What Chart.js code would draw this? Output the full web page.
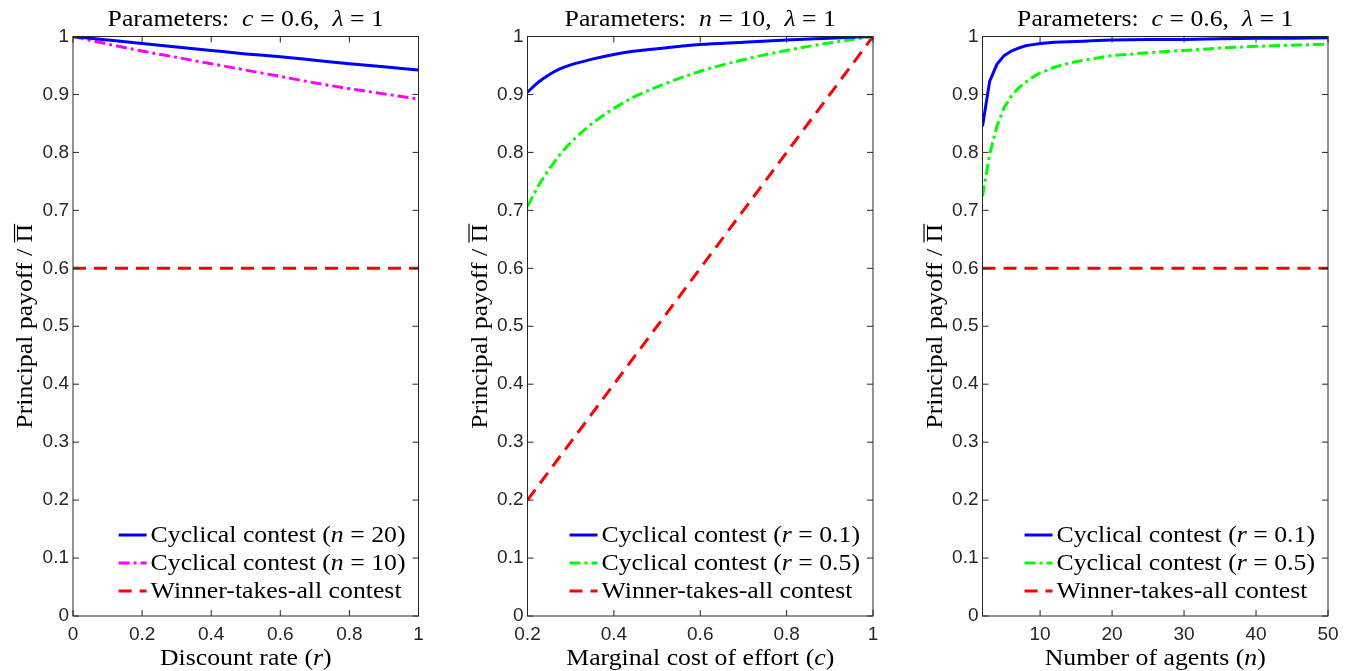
<!DOCTYPE html>
<html>
<head>
<meta charset="utf-8">
<script src="https://cdn.jsdelivr.net/npm/chart.js@4.4.1/dist/chart.umd.min.js"></script>
<style>
  html, body { margin: 0; padding: 0; background: #fff; }
  #wrap { position: relative; width: 1351px; height: 671px; overflow: hidden; }
  canvas { position: absolute; top: 0; }
</style>
</head>
<body>
<div id="wrap">
  <canvas id="c1" width="450" height="671" style="left:0px"></canvas>
  <canvas id="c2" width="450" height="671" style="left:455px"></canvas>
  <canvas id="c3" width="441" height="671" style="left:910px"></canvas>
</div>
<script>
// ── Data ──────────────────────────────────────────
// panel 1: discount rate r
const rVals = [0, 0.1, 0.2, 0.3, 0.4, 0.5, 0.6, 0.7, 0.8, 0.9, 1.0];
const p1CycN20 = [1.000, 0.994, 0.988, 0.982, 0.976, 0.970, 0.965, 0.959, 0.953, 0.948, 0.942];
const p1CycN10 = [1.000, 0.987, 0.975, 0.964, 0.953, 0.942, 0.931, 0.920, 0.910, 0.901, 0.892];
const p1WtaX = [0, 1];
const p1Wta = [0.6, 0.6];

// panel 2: marginal cost c
const cVals = [0.2, 0.225, 0.25, 0.275, 0.3, 0.35, 0.4, 0.45, 0.5, 0.6, 0.7, 0.8, 0.9, 1.0];
const p2CycR01 = [0.904, 0.921, 0.934, 0.944, 0.951, 0.961, 0.969, 0.975, 0.979, 0.986, 0.990, 0.994, 0.997, 1.000];
const p2CycR05 = [0.707, 0.742, 0.771, 0.796, 0.817, 0.850, 0.876, 0.897, 0.913, 0.940, 0.960, 0.976, 0.989, 1.000];
const p2WtaX = [0.2, 1.0];
const p2Wta = [0.2, 1.0];

// panel 3: number of agents n
const nVals = [2, 3, 4, 5, 6, 7, 8, 9, 10, 12, 14, 16, 18, 20, 25, 30, 35, 40, 45, 50];
const p3CycR01 = [0.845, 0.923, 0.952, 0.967, 0.975, 0.980, 0.984, 0.986, 0.988, 0.990, 0.991, 0.992, 0.993, 0.994, 0.995, 0.995, 0.996, 0.997, 0.997, 0.998];
const p3CycR05 = [0.724, 0.797, 0.845, 0.877, 0.897, 0.911, 0.921, 0.930, 0.937, 0.947, 0.954, 0.959, 0.963, 0.967, 0.972, 0.976, 0.980, 0.983, 0.985, 0.987];
const p3WtaX = [2, 50];
const p3Wta = [0.6, 0.6];

// tick labels
const yTicks = [0, 0.1, 0.2, 0.3, 0.4, 0.5, 0.6, 0.7, 0.8, 0.9, 1];
const xTicks1 = [0, 0.2, 0.4, 0.6, 0.8, 1];
const xTicks2 = [0.2, 0.4, 0.6, 0.8, 1];
const xTicks3 = [10, 20, 30, 40, 50];

// texts (i = italic math)
const title1 = [{ t: 'Parameters:  ' }, { t: 'c', i: 1 }, { t: ' = 0.6,  ' }, { t: 'λ', i: 1 }, { t: ' = 1' }];
const title2 = [{ t: 'Parameters:  ' }, { t: 'n', i: 1 }, { t: ' = 10,  ' }, { t: 'λ', i: 1 }, { t: ' = 1' }];
const title3 = title1;
const xLabel1 = [{ t: 'Discount rate (' }, { t: 'r', i: 1 }, { t: ')' }];
const xLabel2 = [{ t: 'Marginal cost of effort (' }, { t: 'c', i: 1 }, { t: ')' }];
const xLabel3 = [{ t: 'Number of agents (' }, { t: 'n', i: 1 }, { t: ')' }];
const yLabel = [{ t: 'Principal payoff / ' }, { t: 'Π', bar: 1 }];
const legN20 = [{ t: 'Cyclical contest (' }, { t: 'n', i: 1 }, { t: ' = 20)' }];
const legN10 = [{ t: 'Cyclical contest (' }, { t: 'n', i: 1 }, { t: ' = 10)' }];
const legR01 = [{ t: 'Cyclical contest (' }, { t: 'r', i: 1 }, { t: ' = 0.1)' }];
const legR05 = [{ t: 'Cyclical contest (' }, { t: 'r', i: 1 }, { t: ' = 0.5)' }];
const legWta = [{ t: 'Winner-takes-all contest' }];

// ── Style ─────────────────────────────────────────
const AXIS = '#262626';
const SERIF = '"Liberation Serif", "Times New Roman", serif';
const SANS = '"Liberation Sans", Arial, sans-serif';
const SERIF_PX = 23;
const SX = 1.12; // widen Times toward Computer Modern proportions
const DASH_DOT = [11, 4, 3, 4];
const DASHED = [13, 8];

function pts(xs, ys) { return xs.map((x, k) => ({ x, y: ys[k] })); }

function fontFor(s) { return (s.i ? 'italic ' : '') + SERIF_PX + 'px ' + SERIF; }

function richWidth(ctx, segs) {
  let w = 0;
  segs.forEach((s) => { ctx.font = fontFor(s); w += ctx.measureText(s.t).width; });
  return w * SX;
}

// draws at current transform, x = left, y = baseline
function drawRich(ctx, segs, x, y) {
  ctx.save();
  ctx.translate(x, y);
  ctx.scale(SX, 1);
  let cx = 0;
  segs.forEach((s) => {
    ctx.font = fontFor(s);
    ctx.fillText(s.t, cx, 0);
    const w = ctx.measureText(s.t).width;
    if (s.bar) {
      ctx.beginPath();
      ctx.lineWidth = 1.2;
      ctx.moveTo(cx, -SERIF_PX * 0.76);
      ctx.lineTo(cx + w, -SERIF_PX * 0.76);
      ctx.stroke();
    }
    cx += w;
  });
  ctx.restore();
}

const panelDeco = {
  id: 'panelDeco',
  afterDatasetsDraw(chart, args, opts) {
    const { ctx, chartArea: a, scales: { x, y } } = chart;
    ctx.save();
    ctx.fillStyle = '#000';
    ctx.strokeStyle = '#000';
    ctx.textBaseline = 'alphabetic';

    // legend, inside bottom right
    const items = chart.data.datasets;
    let maxW = 0;
    items.forEach((d) => { maxW = Math.max(maxW, richWidth(ctx, d.segs)); });
    const tx = a.right - 13 - maxW;
    items.forEach((d, k) => {
      const ly = 535 + k * 28;
      ctx.save();
      ctx.strokeStyle = d.borderColor;
      ctx.lineWidth = d.borderWidth;
      ctx.setLineDash(d.borderDash || []);
      ctx.beginPath();
      ctx.moveTo(tx - 32, ly);
      ctx.lineTo(tx - 4, ly);
      ctx.stroke();
      ctx.restore();
      drawRich(ctx, d.segs, tx, ly + 7);
    });

    // box + inward ticks on all sides
    ctx.strokeStyle = AXIS;
    ctx.lineWidth = 1;
    ctx.setLineDash([]);
    ctx.strokeRect(a.left, a.top, a.right - a.left, a.bottom - a.top);
    ctx.beginPath();
    x.ticks.forEach((t) => {
      const px = x.getPixelForValue(t.value);
      ctx.moveTo(px, a.bottom); ctx.lineTo(px, a.bottom - 6);
      ctx.moveTo(px, a.top); ctx.lineTo(px, a.top + 6);
    });
    y.ticks.forEach((t) => {
      const py = y.getPixelForValue(t.value);
      ctx.moveTo(a.left, py); ctx.lineTo(a.left + 6, py);
      ctx.moveTo(a.right, py); ctx.lineTo(a.right - 6, py);
    });
    ctx.stroke();

    // title + axis labels
    ctx.fillStyle = '#000';
    ctx.strokeStyle = '#000';
    const cxm = (a.left + a.right) / 2;
    drawRich(ctx, opts.title, cxm - richWidth(ctx, opts.title) / 2, 26);
    drawRich(ctx, opts.xLabel, cxm - richWidth(ctx, opts.xLabel) / 2, 665);
    ctx.save();
    ctx.translate(a.left - 41, (a.top + a.bottom) / 2);
    ctx.rotate(-Math.PI / 2);
    drawRich(ctx, yLabel, -richWidth(ctx, yLabel) / 2, 0);
    ctx.restore();

    ctx.restore();
  },
};

function makePanel(id, cfg) {
  const canvas = document.getElementById(id);
  return new Chart(canvas.getContext('2d'), {
    type: 'line',
    data: { datasets: cfg.datasets },
    options: {
      responsive: false,
      animation: false,
      devicePixelRatio: 1,
      layout: { padding: { left: 0, right: cfg.padRight, top: 36.5, bottom: 0 } },
      elements: { point: { radius: 0 }, line: { tension: 0 } },
      plugins: {
        legend: { display: false },
        tooltip: { enabled: false },
        panelDeco: { title: cfg.title, xLabel: cfg.xLabel },
      },
      scales: {
        x: {
          type: 'linear',
          min: cfg.xMin,
          max: cfg.xMax,
          grid: { display: false, drawTicks: false },
          border: { display: false },
          afterBuildTicks: (s) => { s.ticks = cfg.xTicks.map((v) => ({ value: v })); },
          afterFit: (s) => { s.height = 55; },
          ticks: {
            autoSkip: false, maxRotation: 0, padding: 7, color: AXIS,
            font: { family: SANS, size: 19 },
            callback: (v) => String(+v.toFixed(1)),
          },
        },
        y: {
          type: 'linear',
          min: 0,
          max: 1,
          grid: { display: false, drawTicks: false },
          border: { display: false },
          afterBuildTicks: (s) => { s.ticks = yTicks.map((v) => ({ value: v })); },
          afterFit: (s) => { s.width = cfg.yWidth; },
          ticks: {
            autoSkip: false, padding: 4, color: AXIS,
            font: { family: SANS, size: 19 },
            callback: (v) => String(+v.toFixed(1)),
          },
        },
      },
    },
    plugins: [panelDeco],
  });
}

makePanel('c1', {
  xMin: 0, xMax: 1, xTicks: xTicks1, yWidth: 73, padRight: 450 - 418.5,
  title: title1, xLabel: xLabel1,
  datasets: [
    { segs: legN20, data: pts(rVals, p1CycN20), borderColor: '#0000ff', borderWidth: 3, cubicInterpolationMode: 'monotone' },
    { segs: legN10, data: pts(rVals, p1CycN10), borderColor: '#ff00ff', borderWidth: 3, borderDash: DASH_DOT, cubicInterpolationMode: 'monotone' },
    { segs: legWta, data: pts(p1WtaX, p1Wta), borderColor: '#ff0000', borderWidth: 3, borderDash: DASHED },
  ],
});

makePanel('c2', {
  xMin: 0.2, xMax: 1, xTicks: xTicks2, yWidth: 527.5 - 455, padRight: 905 - 873,
  title: title2, xLabel: xLabel2,
  datasets: [
    { segs: legR01, data: pts(cVals, p2CycR01), borderColor: '#0000ff', borderWidth: 3, cubicInterpolationMode: 'monotone' },
    { segs: legR05, data: pts(cVals, p2CycR05), borderColor: '#00ff00', borderWidth: 3, borderDash: DASH_DOT, cubicInterpolationMode: 'monotone' },
    { segs: legWta, data: pts(p2WtaX, p2Wta), borderColor: '#ff0000', borderWidth: 3, borderDash: DASHED },
  ],
});

makePanel('c3', {
  xMin: 2, xMax: 50, xTicks: xTicks3, yWidth: 982.5 - 910, padRight: 1351 - 1328,
  title: title3, xLabel: xLabel3,
  datasets: [
    { segs: legR01, data: pts(nVals, p3CycR01), borderColor: '#0000ff', borderWidth: 3 },
    { segs: legR05, data: pts(nVals, p3CycR05), borderColor: '#00ff00', borderWidth: 3, borderDash: DASH_DOT },
    { segs: legWta, data: pts(p3WtaX, p3Wta), borderColor: '#ff0000', borderWidth: 3, borderDash: DASHED },
  ],
});
</script>
</body>
</html>
